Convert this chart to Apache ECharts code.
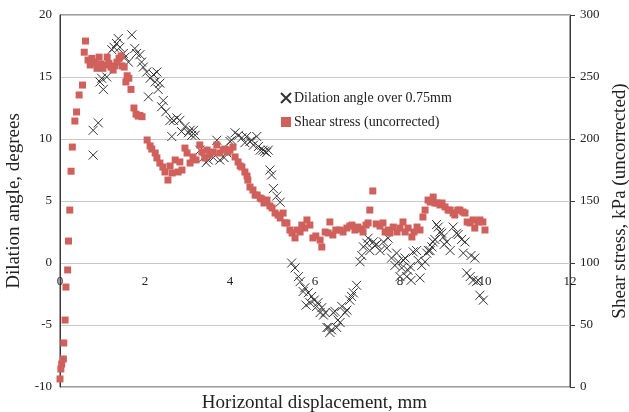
<!DOCTYPE html>
<html>
<head>
<meta charset="utf-8">
<script src="https://cdn.jsdelivr.net/npm/echarts@6/dist/echarts.min.js"></script>
<style>html,body{margin:0;padding:0;background:#fff}#c{width:629px;height:412px}</style>
</head>
<body>
<div id="c"></div>
<script>
const xTicks = [0, 2, 4, 6, 8, 10, 12];
const dilationName = 'Dilation angle over 0.75mm';
const shearName = 'Shear stress (uncorrected)';

// Dilation angle (degrees) vs horizontal displacement (mm)
const dilX = [0.78,0.78,0.90,0.94,0.98,1.02,1.10,1.22,1.27,1.33,1.37,1.41,1.49,1.53,1.61,1.69,1.76,1.80,1.88,1.92,1.96,2.04,2.08,2.12,2.20,2.24,2.28,2.31,2.35,2.39,2.43,2.49,2.59,2.63,2.67,2.75,2.82,2.86,2.94,3.02,3.06,3.10,3.14,3.18,3.29,3.37,3.44,3.49,3.61,3.69,3.76,3.86,3.92,4.00,4.04,4.12,4.20,4.28,4.35,4.39,4.47,4.51,4.55,4.63,4.67,4.71,4.78,4.82,4.86,4.90,4.94,4.98,5.02,5.10,5.18,5.45,5.53,5.61,5.65,5.72,5.76,5.79,5.84,5.88,5.92,5.98,6.04,6.07,6.12,6.16,6.20,6.24,6.28,6.31,6.35,6.39,6.43,6.47,6.51,6.54,6.59,6.63,6.71,6.75,6.82,6.86,6.90,6.98,7.06,7.10,7.14,7.22,7.25,7.29,7.37,7.41,7.45,7.53,7.61,7.69,7.72,7.80,7.88,7.92,7.96,8.00,8.04,8.08,8.12,8.16,8.19,8.24,8.26,8.31,8.39,8.43,8.47,8.51,8.59,8.63,8.67,8.71,8.75,8.78,8.82,8.86,8.90,8.94,8.98,9.02,9.04,9.10,9.18,9.25,9.33,9.37,9.45,9.49,9.53,9.57,9.65,9.67,9.72,9.76,9.80,9.84,9.88,9.96];
const dilY = [8.7,10.7,11.3,14.6,14.9,14.0,15.0,17.2,17.4,17.7,18.1,17.4,16.9,16.6,16.2,18.4,17.3,16.9,16.8,16.2,15.8,15.4,13.4,14.9,15.2,14.6,15.4,14.0,14.5,12.6,13.1,12.2,11.5,10.2,11.5,11.7,11.5,10.6,11.0,10.5,10.7,10.3,10.7,10.3,9.1,8.5,8.1,8.3,8.5,9.9,8.3,8.5,8.9,9.8,9.9,10.5,10.3,10.1,9.7,10.2,9.8,9.9,9.5,10.2,9.4,9.1,9.1,9.0,8.9,9.1,7.5,7.1,6.0,5.4,4.9,0.0,-0.4,-1.1,-1.5,-2.3,-2.0,-3.4,-2.4,-3.2,-2.7,-3.0,-3.5,-3.2,-4.0,-3.6,-4.2,-4.0,-5.2,-5.2,-5.6,-5.4,-4.0,-3.9,-5.2,-4.6,-4.8,-3.5,-4.0,-3.8,-3.0,-2.7,-2.4,-1.8,0.1,0.6,1.3,1.6,2.0,1.0,1.7,1.4,1.5,1.0,1.7,1.2,2.0,0.4,-0.2,0.8,0.1,-1.1,-0.4,0.2,0.4,-1.1,-0.6,-0.3,-1.4,0.9,1.0,0.2,-1.2,-0.2,0.1,0.8,1.0,1.0,1.3,1.7,1.9,3.1,2.9,2.5,2.4,2.1,1.5,1.7,1.0,2.9,2.4,2.3,1.9,0.8,1.7,-0.8,-1.1,0.6,-1.4,0.4,-1.5,-1.4,-2.6,-3.0];

// Shear stress (kPa) vs horizontal displacement (mm)
const shearX = [0.00,0.02,0.04,0.08,0.09,0.12,0.14,0.18,0.20,0.23,0.26,0.29,0.35,0.39,0.45,0.53,0.57,0.60,0.66,0.71,0.75,0.82,0.87,0.92,0.96,1.01,1.06,1.11,1.15,1.20,1.25,1.29,1.34,1.39,1.44,1.46,1.51,1.55,1.58,1.62,1.67,1.74,1.79,1.84,1.88,1.93,2.05,2.12,2.16,2.24,2.28,2.35,2.42,2.47,2.54,2.59,2.64,2.71,2.78,2.82,2.87,2.94,2.99,3.06,3.13,3.20,3.29,3.34,3.41,3.46,3.53,3.60,3.69,3.76,3.84,3.88,3.95,4.00,4.07,4.12,4.19,4.24,4.28,4.35,4.40,4.42,4.47,4.54,4.59,4.64,4.71,4.75,4.80,4.87,4.94,4.99,5.06,5.13,5.18,5.25,5.29,5.34,5.41,5.46,5.53,5.58,5.65,5.69,5.76,5.81,5.88,5.95,6.02,6.12,6.16,6.24,6.31,6.35,6.42,6.49,6.59,6.66,6.75,6.82,6.87,6.94,7.01,7.08,7.13,7.20,7.25,7.29,7.36,7.44,7.53,7.60,7.65,7.72,7.76,7.84,7.93,8.00,8.07,8.12,8.19,8.28,8.33,8.40,8.47,8.54,8.59,8.66,8.71,8.78,8.82,8.87,8.94,8.99,9.06,9.13,9.18,9.25,9.29,9.36,9.41,9.48,9.53,9.58,9.65,9.72,9.76,9.84,9.88,9.95,10.00];
const shearY = [6.5,14.5,18.5,22.6,35.5,54,80.6,94.4,117.7,142.7,174,193.5,214.5,221.8,235.5,243.5,270,279,263.7,259.7,265,262,257,266,260.5,257,259.7,266,261,258,255.6,259,262,265,267,259,258,246,251,249,240,225,220,218.5,219,218,199.2,194.4,191.9,188.7,184.7,180.6,177.4,173.4,166.9,178.2,172.6,183.1,173.4,181.5,175.0,192.7,188.7,180.6,185.5,183.1,195.2,189.5,184.7,191.1,187.1,189.5,195.2,188.7,191.1,191.9,189.5,191.1,193.5,185.5,181.5,178.2,177.4,173.4,170.2,166.9,161.3,158.9,154.8,154.8,152.4,151.6,148.4,150.8,146.0,144.4,140.3,138.7,136.3,140.3,132.3,132.3,126.6,124.2,120.2,126.6,125.0,130.6,128.2,134.7,130.6,120.2,121.8,118.5,112.9,125.0,124.2,133.1,122.6,126.6,126.6,125.0,128.2,129.8,130.6,126.6,129.0,127.4,125.0,130.6,132.3,142.7,158.1,131.5,129.8,132.3,125.0,126.6,124.2,129.0,125.0,128.2,133.1,125.0,128.2,121.0,125.0,129.0,126.6,137.1,142.7,150.8,149.2,153.2,148.4,148.4,146.8,148.4,145.2,142.7,142.7,140.3,138.7,142.7,142.7,141.1,140.3,133.1,132.3,134.7,128.2,133.1,134.7,133.1,126.6];

const FONT = '"Liberation Serif","Times New Roman",serif';
const dilData = dilX.map((x, i) => [x, dilY[i]]);
const shearData = shearX.map((x, i) => [x, shearY[i]]);

const chart = echarts.init(document.getElementById('c'), null, {renderer: 'canvas'});
chart.setOption({
  animation: false,
  backgroundColor: '#ffffff',
  textStyle: {fontFamily: FONT},
  title: {
    text: 'Horizontal displacement, mm',
    left: 'center',
    top: 394,
    padding: 0,
    textStyle: {fontFamily: FONT, fontSize: 19, fontWeight: 'normal', color: '#222'}
  },
  grid: [
    {
      left: 60, right: 59, top: 15, bottom: 25,
      show: true, borderColor: '#3a3a3a', borderWidth: 1,
      containLabel: false, outerBoundsMode: 'none'
    },
    {
      // upper part of the plot (down to the zero line) used only to place the x tick labels on y = 0
      left: 60, right: 59, top: 15, bottom: 149,
      show: false, containLabel: false, outerBoundsMode: 'none'
    }
  ],
  legend: {
    orient: 'vertical',
    left: 280, top: 91,
    itemGap: 10,
    itemWidth: 10, itemHeight: 10,
    padding: 0,
    textStyle: {fontFamily: FONT, fontSize: 14, color: '#222', padding: [0, 0, 0, -2]},
    data: [dilationName, shearName]
  },
  xAxis: [
    {
      type: 'value', gridIndex: 0,
      min: xTicks[0], max: xTicks[xTicks.length - 1], interval: 2,
      position: 'bottom',
      axisLine: {show: false, onZero: false},
      axisTick: {show: false},
      splitLine: {show: false},
      axisLabel: {show: false}
    },
    {
      type: 'value', gridIndex: 1,
      min: xTicks[0], max: xTicks[xTicks.length - 1], interval: 2,
      position: 'bottom',
      axisLine: {show: false, onZero: false},
      axisTick: {show: false},
      splitLine: {show: false},
      axisLabel: {fontFamily: FONT, fontSize: 13, color: '#222', margin: 12, showMinLabel: true, showMaxLabel: true}
    }
  ],
  yAxis: [
    {
      type: 'value', gridIndex: 0, min: -10, max: 20, interval: 5, position: 'left',
      name: 'Dilation angle, degrees', nameLocation: 'middle', nameGap: 24,
      nameTextStyle: {fontFamily: FONT, fontSize: 19, color: '#222'},
      axisLine: {show: true, onZero: false, lineStyle: {color: '#3a3a3a', width: 1}},
      axisTick: {show: false},
      splitLine: {show: true, lineStyle: {color: '#c8c8c8', width: 1.2}},
      axisLabel: {fontFamily: FONT, fontSize: 13, color: '#222', margin: 8}
    },
    {
      type: 'value', gridIndex: 0, min: 0, max: 300, interval: 50, position: 'right',
      name: 'Shear stress, kPa (uncorrected)', nameLocation: 'middle', nameGap: 35,
      nameTextStyle: {fontFamily: FONT, fontSize: 19, color: '#222'},
      axisLine: {show: true, onZero: false, lineStyle: {color: '#3a3a3a', width: 1}},
      axisTick: {show: true, inside: false, length: 5, lineStyle: {color: '#3a3a3a'}},
      splitLine: {show: false},
      axisLabel: {fontFamily: FONT, fontSize: 13, color: '#222', margin: 10}
    },
    {
      type: 'value', gridIndex: 1, min: 0, max: 20, show: false
    }
  ],
  series: [
    {
      name: dilationName, type: 'scatter', xAxisIndex: 0, yAxisIndex: 0,
      symbol: 'path://M0,0L10,10M10,0L0,10', symbolSize: 9,
      itemStyle: {color: 'rgba(0,0,0,0)', borderColor: '#333333', borderWidth: 1, opacity: 1},
      data: dilData
    },
    {
      name: shearName, type: 'scatter', xAxisIndex: 0, yAxisIndex: 1,
      symbol: 'rect', symbolSize: 7,
      itemStyle: {color: '#d0605c', opacity: 1},
      data: shearData
    }
  ]
});
</script>
</body>
</html>
